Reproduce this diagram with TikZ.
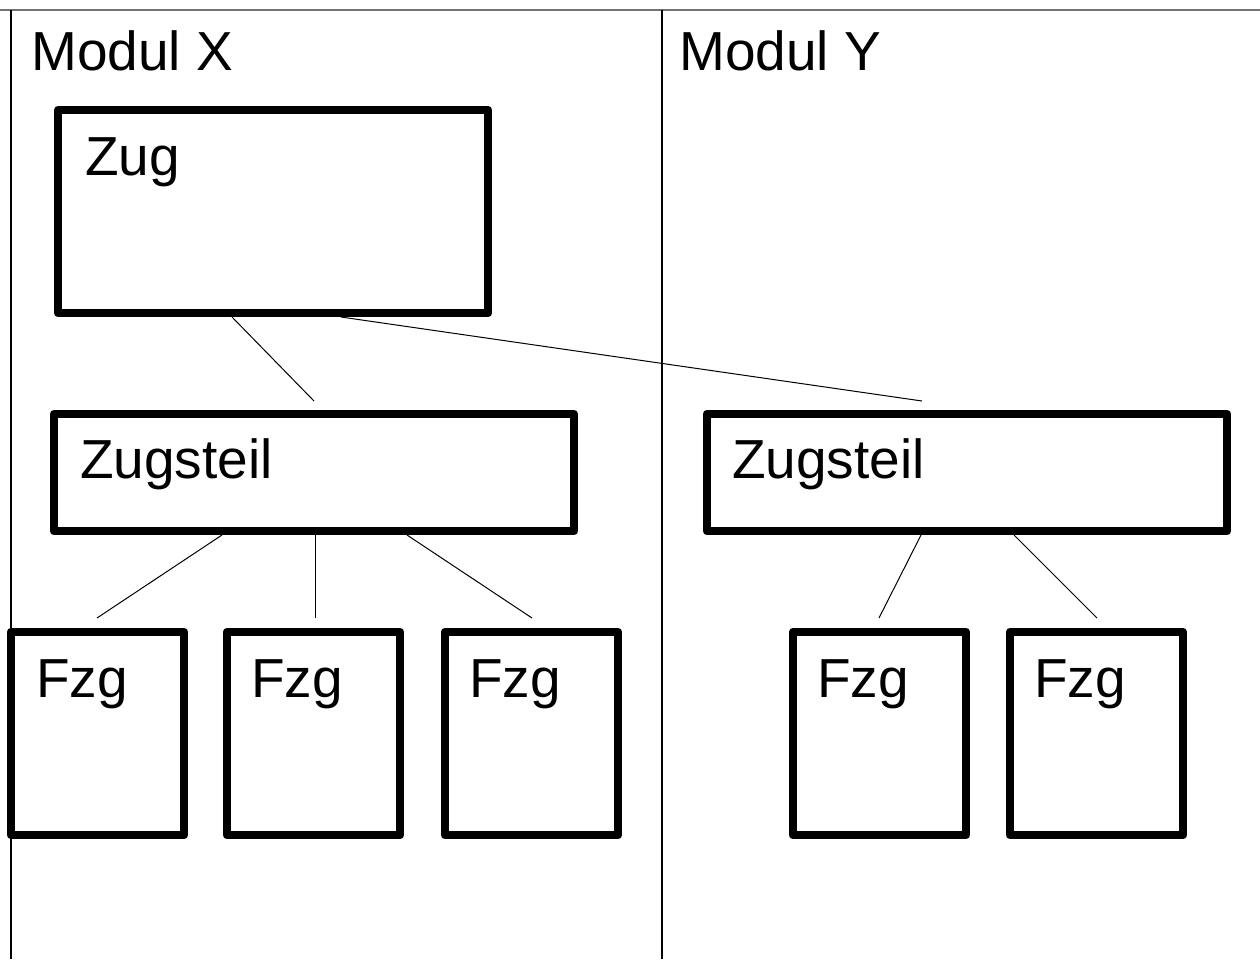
\documentclass[tikz,border=0pt]{standalone}
\usepackage{fontspec}
\setmainfont{Liberation Sans}
\begin{document}
\begin{tikzpicture}[x=1pt,y=-1pt,
  frameline/.style={line width=1.1pt,black},
  topline/.style={line width=2pt,black!55},
  unit/.style={draw,line width=8.5pt,line join=round,inner sep=0pt,rectangle},
  lbl/.style={anchor=base west,inner sep=0pt,font=\fontsize{55}{62}\selectfont},
  link/.style={line width=1pt,black}]
\useasboundingbox (0,0) rectangle (1260,959);

% module frame
\coordinate (tl) at (0,10);
\coordinate (tr) at (1260,10);
\coordinate (lt) at (11,10);
\coordinate (lb) at (11,959);
\coordinate (mt) at (662,10);
\coordinate (mb) at (662,959);
\draw[topline] (tl) -- (tr);
\draw[frameline] (lt) -- (lb);
\draw[frameline] (mt) -- (mb);

\node[lbl] (modx) at (31,70) {Modul X};
\node[lbl] (mody) at (679,70) {Modul Y};

% boxes
\node[unit,minimum width=430pt,minimum height=203pt] (zug) at (273,211.5) {};
\node[unit,minimum width=520pt,minimum height=117pt] (tl1) at (314,472.5) {};
\node[unit,minimum width=520pt,minimum height=117pt] (tr1) at (967,472.5) {};
\node[unit,minimum width=173pt,minimum height=203pt] (f1) at (97.5,733.5) {};
\node[unit,minimum width=173pt,minimum height=203pt] (f2) at (313.5,733.5) {};
\node[unit,minimum width=173pt,minimum height=203pt] (f3) at (531.5,733.5) {};
\node[unit,minimum width=173pt,minimum height=203pt] (f4) at (879.5,733.5) {};
\node[unit,minimum width=173pt,minimum height=203pt] (f5) at (1096.5,733.5) {};

% box labels
\node[lbl] (zugt) at (85,175) {Zug};
\node[lbl] (tl1t) at (80,478) {Zugsteil};
\node[lbl] (tr1t) at (732,478) {Zugsteil};
\node[lbl] (f1t) at (36,697) {Fzg};
\node[lbl] (f2t) at (251,697) {Fzg};
\node[lbl] (f3t) at (469,697) {Fzg};
\node[lbl] (f4t) at (817,697) {Fzg};
\node[lbl] (f5t) at (1034,697) {Fzg};

% connector ends
\coordinate (za) at (232,317);
\coordinate (zb) at (341,317);
\coordinate (la) at (314,401);
\coordinate (ra) at (922,401);
\coordinate (l1) at (222,535);
\coordinate (l2) at (315,535);
\coordinate (l3) at (407,535);
\coordinate (r1) at (921,535);
\coordinate (r2) at (1014,535);
\coordinate (e1) at (97,618);
\coordinate (e2) at (315,618);
\coordinate (e3) at (532,618);
\coordinate (e4) at (879,618);
\coordinate (e5) at (1097,618);

% connectors
\draw[link] (za) -- (la);
\draw[link] (zb) -- (ra);
\draw[link] (l1) -- (e1);
\draw[link] (l2) -- (e2);
\draw[link] (l3) -- (e3);
\draw[link] (r1) -- (e4);
\draw[link] (r2) -- (e5);
\end{tikzpicture}
\end{document}
